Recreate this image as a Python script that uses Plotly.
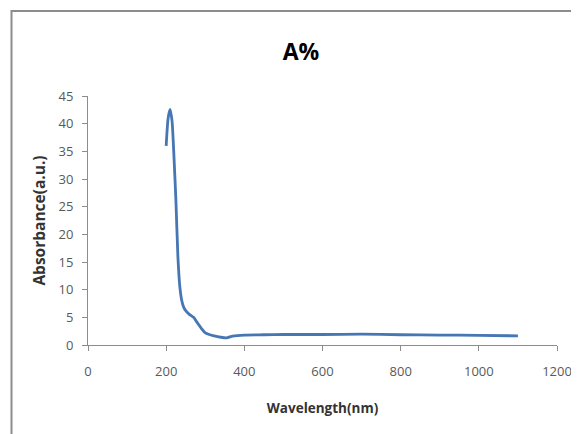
import plotly.graph_objects as go

wavelength = [200, 205, 210, 215, 220, 225, 230, 235, 240, 245, 250, 260, 270, 280,
              290, 300, 310, 320, 340, 355, 370, 400, 450, 500, 600, 700, 800, 900, 1000, 1100]
absorbance = [36, 41, 42.6, 40.5, 34, 26, 16, 10.5, 8, 6.8, 6.2, 5.5, 5.0, 4.0,
              3.0, 2.2, 1.9, 1.7, 1.4, 1.3, 1.6, 1.8, 1.85, 1.9, 1.9, 1.95, 1.85, 1.8, 1.75, 1.65]

x_ticks = [0, 200, 400, 600, 800, 1000, 1200]
y_ticks = [0, 5, 10, 15, 20, 25, 30, 35, 40, 45]

# page body adds ~8px offset; figure sized to fit window
W, H = 571, 426
L, R, T, B = 80, 22, 88, 89
pw, ph = W - L - R, H - T - B

FONT = "'Open Sans', Lato, sans-serif"

fig = go.Figure()
fig.add_trace(go.Scatter(
    x=wavelength, y=absorbance, mode="lines",
    line=dict(color="#4676B4", width=2.8, shape="spline", smoothing=0.6),
    showlegend=False,
))

axis_font = dict(family=FONT, size=13, color="#595959")
fig.update_layout(
    width=W, height=H,
    margin=dict(l=L, r=R, t=T, b=B),
    paper_bgcolor="white", plot_bgcolor="white",
    title=dict(text="<b>A%</b>", x=293 / W, xref="container", xanchor="center",
               y=1 - 44 / H, yref="container", yanchor="middle",
               font=dict(family=FONT, size=23, color="#000000")),
    xaxis=dict(range=[0, 1200], tickvals=x_ticks, showgrid=False, zeroline=False,
               showline=True, linecolor="#8C8C8C", linewidth=1, automargin=False,
               ticks="outside", ticklen=5, tickcolor="#8C8C8C",
               tickfont=axis_font, ticklabelstandoff=9,
               title=dict(text="<b>Wavelength(nm)</b>", standoff=24,
                          font=dict(family=FONT, size=13.5, color="#333333"))),
    yaxis=dict(range=[0, 45], tickvals=y_ticks, showgrid=False, zeroline=False,
               showline=True, linecolor="#8C8C8C", linewidth=1, automargin=False,
               ticks="outside", ticklen=5, tickcolor="#8C8C8C",
               tickfont=axis_font, ticklabelstandoff=6,
               title=dict(text="<b>Absorbance(a.u.)</b>", standoff=9,
                          font=dict(family=FONT, size=15.5, color="#333333"))),
    shapes=[dict(type="rect", xref="paper", yref="paper",
                 x0=(3.5 - L) / pw, x1=1.2, y0=-0.5, y1=(H - B - 3) / ph,
                 line=dict(color="#8C8C8C", width=2), layer="below")],
)

fig.write_html("out.html")
